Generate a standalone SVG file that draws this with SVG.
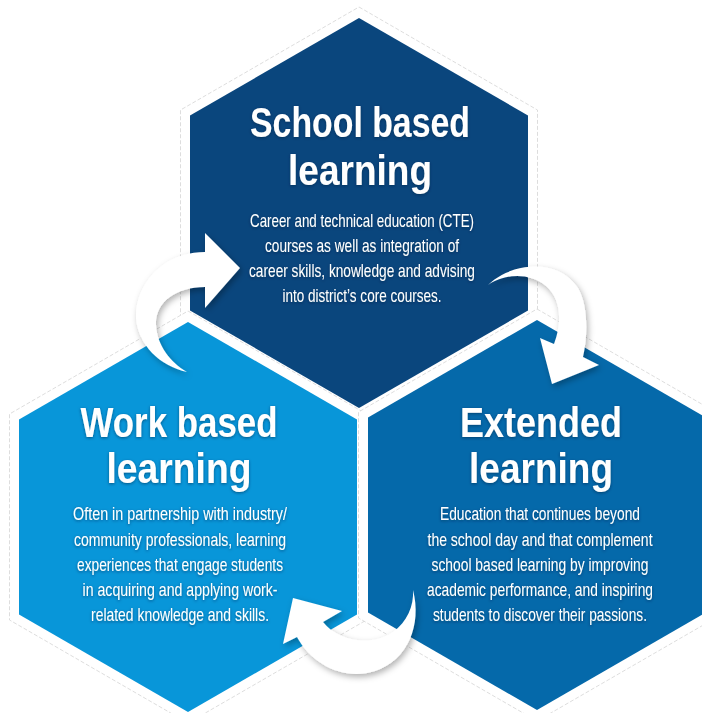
<svg xmlns="http://www.w3.org/2000/svg" width="702" height="713" viewBox="0 0 702 713">
<style>
.halo{fill:#ffffff;stroke:#d4d4d4;stroke-width:0.8;stroke-dasharray:4 2}
.title{font-family:"Liberation Sans",Arial,sans-serif;font-weight:bold;font-size:43px;fill:#ffffff;text-anchor:middle}
.body{font-family:"Liberation Sans",Arial,sans-serif;font-size:18px;fill:#ffffff;text-anchor:middle}
.arrow{fill:#ffffff}
</style>
<defs>
<filter id="ash" filterUnits="userSpaceOnUse" x="0" y="0" width="702" height="713">
<feDropShadow dx="2" dy="3" stdDeviation="3" flood-color="#000000" flood-opacity="0.3"/>
</filter>
<filter id="tsh" filterUnits="userSpaceOnUse" x="0" y="0" width="702" height="713">
<feDropShadow dx="0" dy="1" stdDeviation="1.5" flood-color="#00203f" flood-opacity="0.55"/>
</filter>
</defs>
<rect width="702" height="713" fill="#ffffff"/>
<g id="halos">
<polygon class="halo" points="359,7 537.5,110 537.5,316 359,419 180.5,316 180.5,110"/>
<polygon class="halo" points="188,311 366.5,414 366.5,620 188,723 9.5,620 9.5,414"/>
<polygon class="halo" points="537,309 715.5,412 715.5,618 537,721 358.5,618 358.5,412"/>
</g>
<g id="node-school">
<polygon points="359,18 528,115.5 528,310.5 359,408 190,310.5 190,115.5" fill="#0a467d"/>
<g filter="url(#tsh)">
<text class="title" transform="translate(360,137) scale(0.86,1)" textLength="255.8" lengthAdjust="spacingAndGlyphs">School based</text>
<text class="title" transform="translate(360,185) scale(0.86,1)" textLength="167.4" lengthAdjust="spacingAndGlyphs">learning</text>
<text class="body" transform="translate(362,227) scale(0.78,1)" textLength="287.2" lengthAdjust="spacingAndGlyphs">Career and technical education (CTE)</text>
<text class="body" transform="translate(362,252) scale(0.78,1)" textLength="248.7" lengthAdjust="spacingAndGlyphs">courses as well as integration of</text>
<text class="body" transform="translate(362,277) scale(0.78,1)" textLength="289.7" lengthAdjust="spacingAndGlyphs">career skills, knowledge and advising</text>
<text class="body" transform="translate(362,302) scale(0.78,1)" textLength="203.8" lengthAdjust="spacingAndGlyphs">into district’s core courses.</text>
</g>
</g>
<g id="node-work">
<polygon points="188,322 357,419.5 357,614.5 188,712 19,614.5 19,419.5" fill="#0896d9"/>
<g filter="url(#tsh)">
<text class="title" transform="translate(179,437) scale(0.86,1)" textLength="229.1" lengthAdjust="spacingAndGlyphs">Work based</text>
<text class="title" transform="translate(179,483) scale(0.86,1)" textLength="168.6" lengthAdjust="spacingAndGlyphs">learning</text>
<text class="body" transform="translate(180,520) scale(0.78,1)" textLength="274.4" lengthAdjust="spacingAndGlyphs">Often in partnership with industry/</text>
<text class="body" transform="translate(180,546) scale(0.78,1)" textLength="271.8" lengthAdjust="spacingAndGlyphs">community professionals, learning</text>
<text class="body" transform="translate(180,571) scale(0.78,1)" textLength="264.1" lengthAdjust="spacingAndGlyphs">experiences that engage students</text>
<text class="body" transform="translate(180,596) scale(0.78,1)" textLength="250" lengthAdjust="spacingAndGlyphs">in acquiring and applying work-</text>
<text class="body" transform="translate(180,621) scale(0.78,1)" textLength="228.2" lengthAdjust="spacingAndGlyphs">related knowledge and skills.</text>
</g>
</g>
<g id="node-extended">
<polygon points="537,320 706,417.5 706,612.5 537,710 368,612.5 368,417.5" fill="#0569aa"/>
<g filter="url(#tsh)">
<text class="title" transform="translate(541,437) scale(0.86,1)" textLength="188.4" lengthAdjust="spacingAndGlyphs">Extended</text>
<text class="title" transform="translate(541,483) scale(0.86,1)" textLength="167.4" lengthAdjust="spacingAndGlyphs">learning</text>
<text class="body" transform="translate(540,520) scale(0.78,1)" textLength="256.4" lengthAdjust="spacingAndGlyphs">Education that continues beyond</text>
<text class="body" transform="translate(540,546) scale(0.78,1)" textLength="288.5" lengthAdjust="spacingAndGlyphs">the school day and that complement</text>
<text class="body" transform="translate(540,571) scale(0.78,1)" textLength="278.2" lengthAdjust="spacingAndGlyphs">school based learning by improving</text>
<text class="body" transform="translate(540,596) scale(0.78,1)" textLength="289.7" lengthAdjust="spacingAndGlyphs">academic performance, and inspiring</text>
<text class="body" transform="translate(540,621) scale(0.78,1)" textLength="274.4" lengthAdjust="spacingAndGlyphs">students to discover their passions.</text>
</g>
</g>
<g id="connectors" filter="url(#ash)">
<path class="arrow" d="M187,372 C160,366 138,345 136,318 C135,285 162,252 205,252 L205,233 L240,268 L205,308 L205,287 C175,287 155,303 156,325 C157,345 170,362 187,372 Z"/>
<path class="arrow" d="M488,285 C512,262 558,258 578,288 C588,305 588,335 583,357 L599,365 L552,384 L540,338 L554,344 C563,320 560,298 546,286 C530,273 506,273 488,285 Z"/>
<path class="arrow" d="M413,590 C422,625 408,660 375,671 C345,681 312,665 297,637 L283,644 L293,598 L342,611 L323,622 C337,640 370,648 393,632 C407,622 414,606 413,590 Z"/>
</g>
</svg>
